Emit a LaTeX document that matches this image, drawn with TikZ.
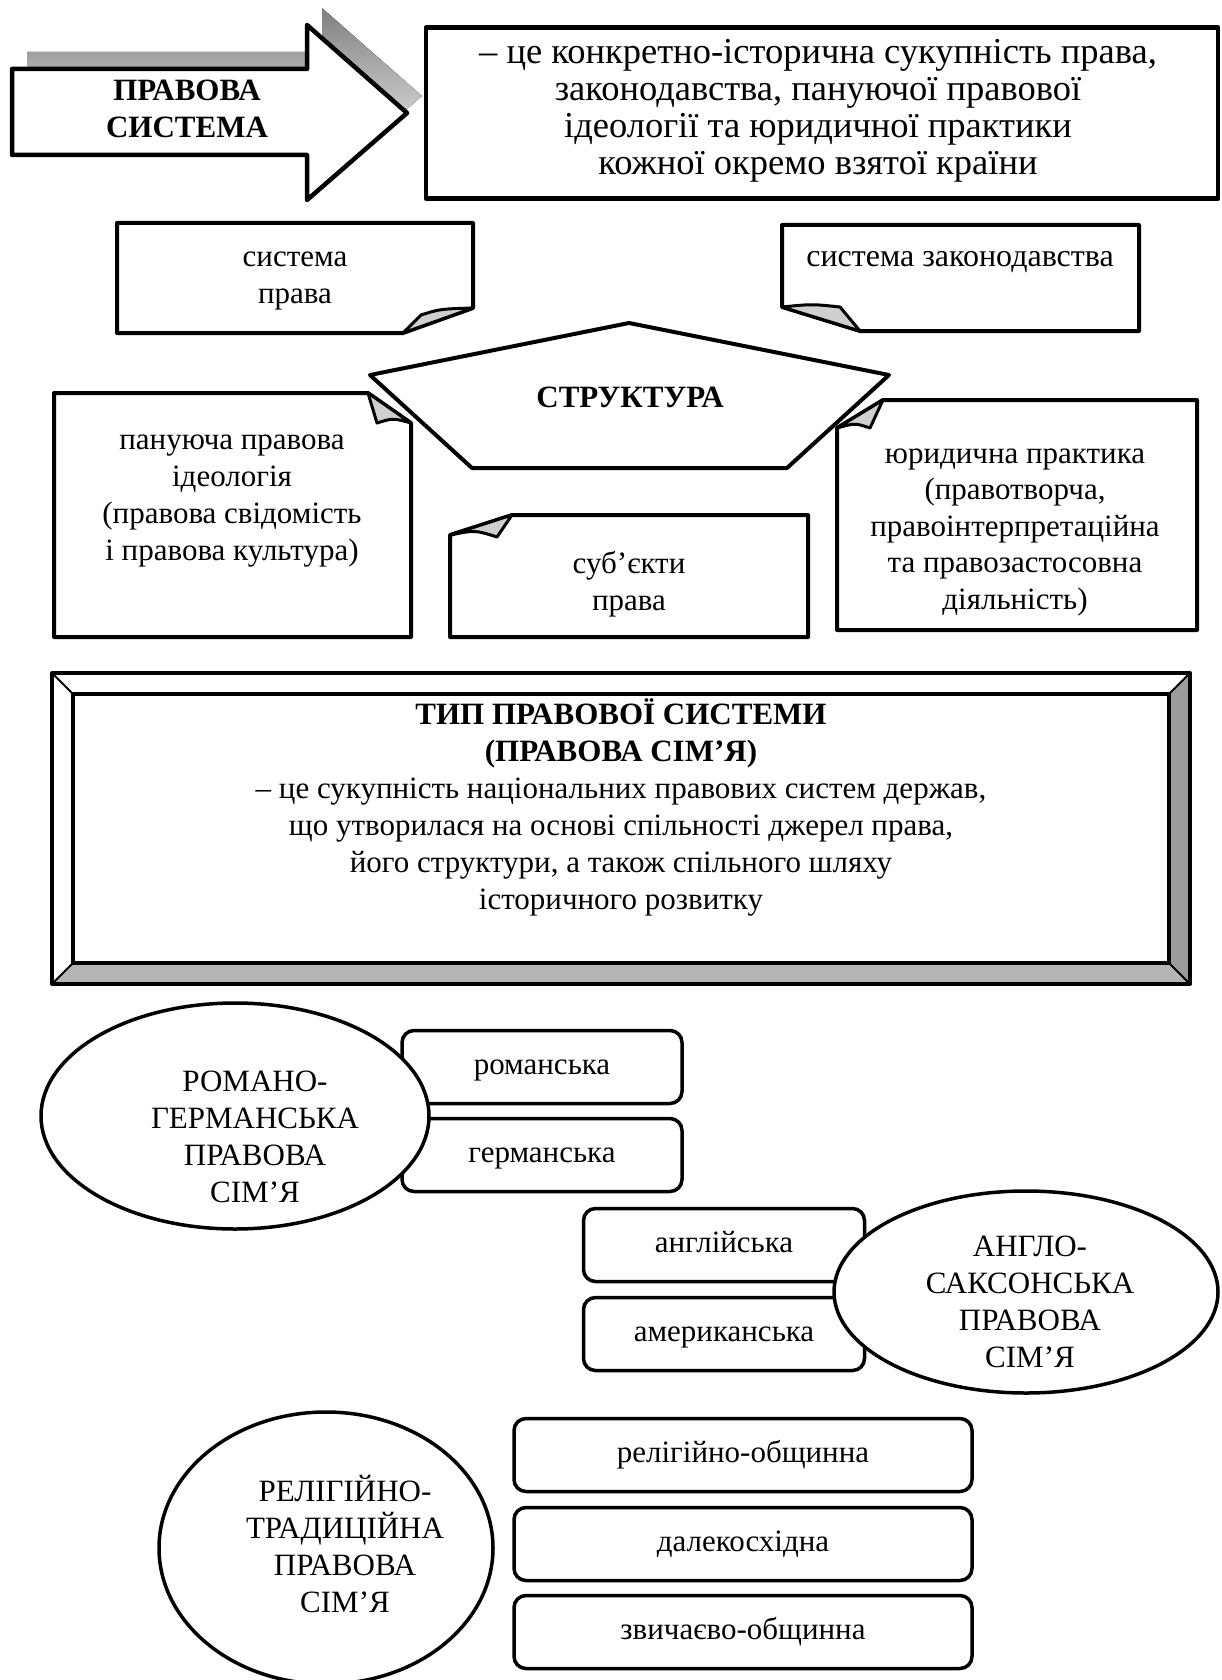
\documentclass[tikz,border=0pt]{standalone}
\usepackage{fontspec}
\setmainfont{Liberation Serif}
\usetikzlibrary{shapes.geometric}
\definecolor{shade}{HTML}{808080}
\definecolor{flapcol}{HTML}{CFCFCF}
\definecolor{bevelr}{HTML}{9C9C9C}
\definecolor{bevelb}{HTML}{B4B4B4}

\begin{document}
\begin{tikzpicture}[x=1pt, y=-1pt, line join=round, line cap=round,
  txt/.style={align=center, inner sep=0pt, font=\fontsize{31}{37}\selectfont},
  hd/.style={txt, font=\fontsize{31}{37}\selectfont\bfseries},
  outline/.style={draw=black, line width=4.5pt},
  note/.style={draw=black, fill=white, line width=4pt},
  flap/.style={draw=black, fill=flapcol, line width=3pt},
  branch/.style={txt, draw=black, fill=white, line width=3.5pt, rounded corners=12pt,
                 minimum height=73pt, text height=21pt, text depth=7pt},
  family/.style={ellipse, draw=black, fill=white, line width=3.5pt, inner sep=0pt}]

\useasboundingbox (0,0) rectangle (1221,1680);

% ================================================================ arrow + definition
\fill[shade] (27,52) -- (322,52) -- (322,8) -- (422,96) -- (322,183) -- (322,138) -- (27,138) -- cycle;
\draw[outline, fill=white] (12,69) -- (307,69) -- (307,25) -- (407,113) -- (307,200)
  -- (307,155) -- (12,155) -- cycle;
\node[hd] (legal) at (187,109) {ПРАВОВА\\СИСТЕМА};

\node[draw=black, line width=4.5pt, minimum width=792pt, minimum height=171pt] (defbox) at (822,113) {};
\node[txt, font=\fontsize{36.5}{37}\selectfont] (deftxt) at (818,111)
  {– це конкретно-історична сукупність права,\\
   законодавства, пануючої правової\\
   ідеології та юридичної практики\\
   кожної окремо взятої країни};

% ================================================================ structure notes
\draw[note] (117,223) -- (473,223) -- (473,308) -- (403,333) -- (117,333) -- cycle;
\draw[flap] (403,333) -- (421,315) .. controls (440,309) .. (473,308) -- cycle;
\node[txt] (syslaw) at (295,281) {система\\права};

\draw[note] (782,225) -- (1139,225) -- (1139,331) -- (860,331) -- (782,307) -- cycle;
\draw[flap] (860,331) -- (840,307) .. controls (812,304) .. (782,307) -- cycle;
\node[txt, font=\fontsize{32}{37}\selectfont] (syslegis) at (960,262) {система законодавства};

\draw[note] (54,393) -- (368,393) -- (411,423) -- (411,637) -- (54,637) -- cycle;
\draw[flap] (368,393) -- (377,423) .. controls (393,418) .. (411,423) -- cycle;
\node[txt] (ideol) at (232,501)
  {пануюча правова\\ідеологія\\(правова свідомість\\і правова культура)};

\draw[note] (883,400) -- (1197,400) -- (1197,630) -- (837,630) -- (837,428) -- cycle;
\draw[flap] (883,400) -- (870,428) .. controls (855,423) .. (837,428) -- cycle;
\node[txt, font=\fontsize{31}{36.5}\selectfont] (practice) at (1015,532)
  {юридична практика\\(правотворча,\\правоінтерпретаційна\\та правозастосовна\\діяльність)};

\draw[note] (512,515) -- (808,515) -- (808,637) -- (450,637) -- (450,535) -- cycle;
\draw[flap] (512,515) -- (497,537) .. controls (475,530) .. (450,535) -- cycle;
\node[txt] (subj) at (629,584) {суб’єкти\\права};

\draw[outline, line width=4pt, fill=white] (370,375) -- (629,323) -- (889,375) -- (787,468)
  -- (472,468) -- cycle;
\node[hd] (struct) at (630,397) {СТРУКТУРА};

% ================================================================ type frame
\fill[white] (52,673) rectangle (1190,984);
\fill[bevelr] (1169,694) -- (1190,673) -- (1190,984) -- (1169,963) -- cycle;
\fill[bevelb] (73,963) -- (1169,963) -- (1190,984) -- (52,984) -- cycle;
\draw[black, line width=2pt] (52,673) -- (73,694) (1190,673) -- (1169,694)
  (52,984) -- (73,963) (1190,984) -- (1169,963);
\draw[black, line width=4pt] (52,673) rectangle (1190,984);
\draw[black, line width=3.5pt] (73,694) rectangle (1169,963);
\node[txt] (typetxt) at (621,807)
  {\textbf{ТИП ПРАВОВОЇ СИСТЕМИ}\\
   \textbf{(ПРАВОВА СІМ’Я)}\\
   – це сукупність національних правових систем держав,\\
   що утворилася на основі спільності джерел права,\\
   його структури, а також спільного шляху\\
   історичного розвитку};

% ================================================================ families
\node[branch, minimum width=280pt] (roman) at (542,1067) {романська};
\node[branch, minimum width=280pt] (german) at (542,1155) {германська};
\node[family, minimum width=388pt, minimum height=226pt] (rg) at (235,1116) {};
\node[txt] (rgtxt) at (255,1137) {РОМАНО-\\ГЕРМАНСЬКА\\ПРАВОВА\\СІМ’Я};

\node[branch, minimum width=281pt] (engl) at (724,1245) {англійська};
\node[branch, minimum width=281pt] (amer) at (724,1334) {американська};
\node[family, minimum width=384pt, minimum height=202pt] (as) at (1026,1292) {};
\node[txt] (astxt) at (1030,1302) {АНГЛО-\\САКСОНСЬКА\\ПРАВОВА\\СІМ’Я};

\node[branch, minimum width=458pt] (relig) at (743,1455) {релігійно-общинна};
\node[branch, minimum width=458pt] (fareast) at (743,1544) {далекосхідна};
\node[branch, minimum width=458pt] (custom) at (743,1632) {звичаєво-общинна};
\node[family, minimum width=334pt, minimum height=272pt] (rt) at (326,1548) {};
\node[txt] (rttxt) at (345,1544) {РЕЛІГІЙНО-\\ТРАДИЦІЙНА\\ПРАВОВА\\СІМ’Я};

\end{tikzpicture}
\end{document}
